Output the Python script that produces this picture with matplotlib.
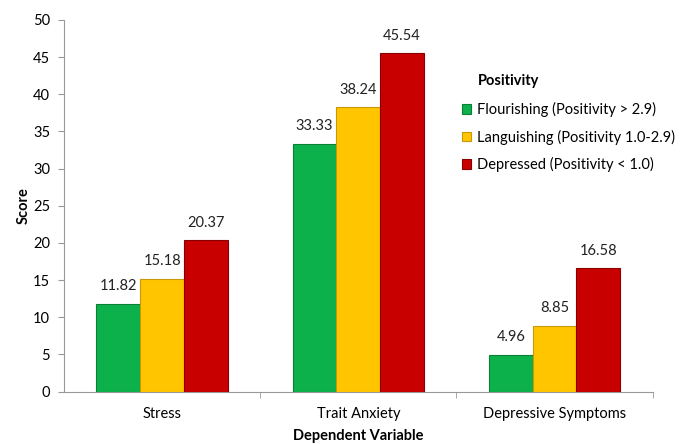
import numpy as np
import matplotlib
matplotlib.use("Agg")
import matplotlib.pyplot as plt

plt.rcParams['font.family'] = ['Lato', 'DejaVu Sans']

# data
categories = ['Stress', 'Trait Anxiety', 'Depressive Symptoms']
series = ['Flourishing (Positivity > 2.9)',
          'Languishing (Positivity 1.0-2.9)',
          'Depressed (Positivity < 1.0)']
flourishing = [11.82, 33.33, 4.96]
languishing = [15.18, 38.24, 8.85]
depressed = [20.37, 45.54, 16.58]

colors = ['#0DB14B', '#FFC600', '#C80000']
edges = ['#0A7F36', '#C9980A', '#8A0000']

fig = plt.figure(figsize=(6.91, 4.44), dpi=100)
ax = fig.add_axes([0.0926, 0.118, 0.852, 0.837])

x = np.arange(len(categories))
w = 0.223
for i, (vals, c, ec, lab) in enumerate(zip([flourishing, languishing, depressed],
                                           colors, edges, series)):
    bars = ax.bar(x + (i - 1) * w, vals, width=w, color=c, edgecolor=ec,
                  linewidth=0.8, label=lab, zorder=3)
    for b, v in zip(bars, vals):
        ax.text(b.get_x() + b.get_width() / 2, v + 1.4, f'{v:.2f}',
                ha='center', va='bottom', fontsize=10.5, color='#222222')

ax.set_xlim(-0.5, 2.5)
ax.set_ylim(0, 50)
ax.set_yticks(range(0, 51, 5))
ax.set_xticks(x)
ax.set_xticklabels(categories, fontsize=10.5)
ax.set_xticks([0.5, 1.5, 2.5], minor=True)
ax.tick_params(axis='x', which='major', length=0, pad=11)
ax.tick_params(axis='x', which='minor', length=4, color='#999999')
ax.tick_params(axis='y', length=4, color='#999999', labelsize=10.5, pad=6)

for s in ['top', 'right']:
    ax.spines[s].set_visible(False)
for s in ['left', 'bottom']:
    ax.spines[s].set_color('#999999')

ax.set_ylabel('Score', fontsize=10.5, fontweight='bold', labelpad=2)
ax.set_xlabel('Dependent Variable', fontsize=10.5, fontweight='bold', labelpad=6)

leg = ax.legend(loc='center left', bbox_to_anchor=(462 / 691, 1 - 137 / 444),
                bbox_transform=fig.transFigure, frameon=False, fontsize=10.5,
                borderpad=0, borderaxespad=0,
                handlelength=0.65, handleheight=0.65, handletextpad=0.35,
                labelspacing=0.85)
fig.text(478 / 691, 1 - 81 / 444, 'Positivity', fontsize=10.5,
         fontweight='bold', va='center', ha='left')

fig.savefig('out.png', dpi=100)
